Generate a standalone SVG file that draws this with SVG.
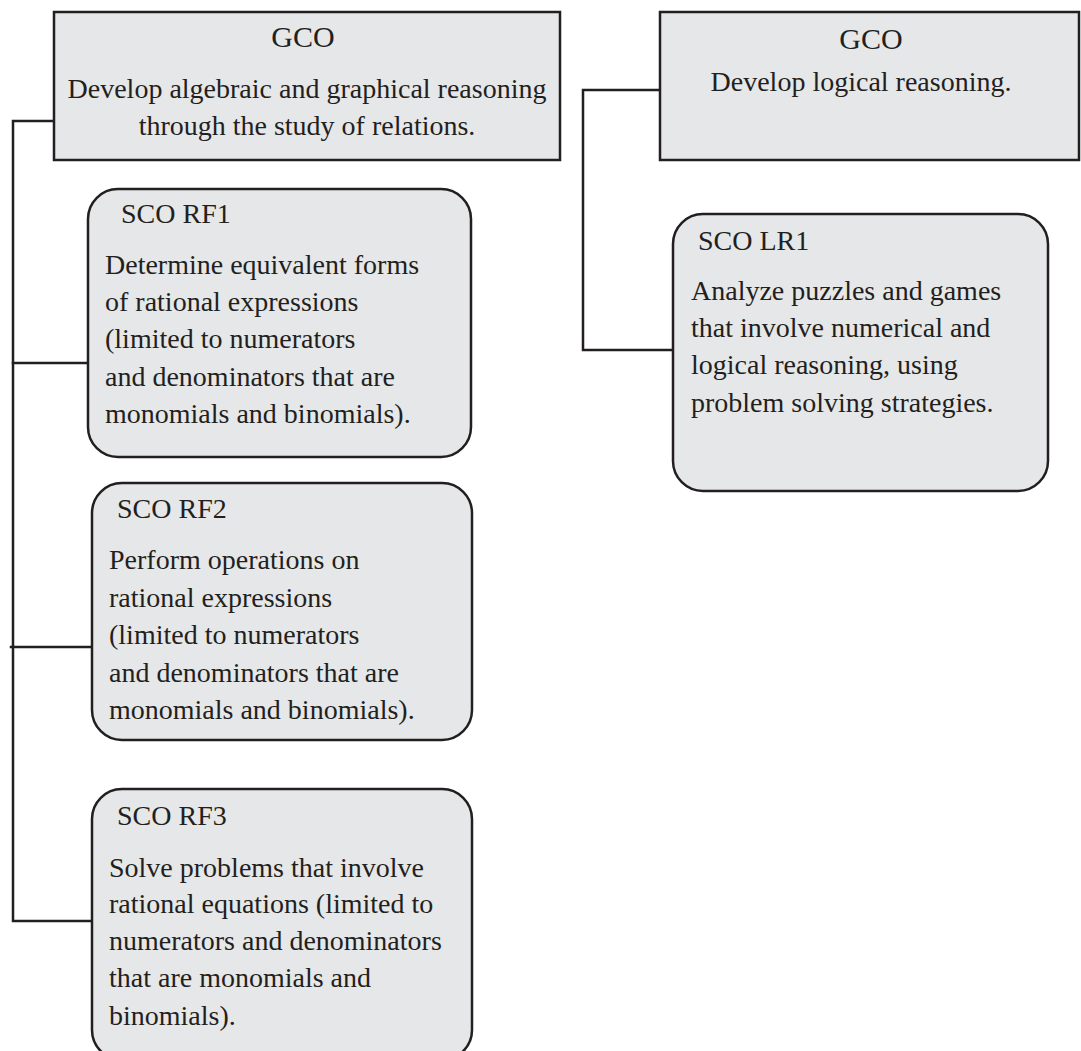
<svg xmlns="http://www.w3.org/2000/svg" width="1081" height="1051" viewBox="0 0 1081 1051">
  <style>
    .box { fill: #e6e7e8; stroke: #231f20; stroke-width: 2.5; }
    .wire { fill: none; stroke: #231f20; stroke-width: 2.5; stroke-linecap: square; }
    text { font-family: "Liberation Serif", "Times New Roman", serif; font-size: 28px; fill: #231f20; }
    .mid { text-anchor: middle; }
    .head { font-size: 30px; }
  </style>
  <rect width="1081" height="1051" fill="#ffffff"/>

  <!-- connectors -->
  <g id="connectors">
    <path class="wire" d="M54,121 H13 V921 H92"/>
    <line class="wire" x1="13" y1="363" x2="88" y2="363"/>
    <line class="wire" x1="11" y1="647" x2="92" y2="647"/>
    <path class="wire" d="M660,90 H583 V350 H673"/>
  </g>

  <!-- general outcome: relations -->
  <g id="gco-relations">
    <rect class="box" x="54" y="12" width="506" height="148"/>
    <text class="mid head" x="303" y="47">GCO</text>
    <text class="mid" x="307" y="98">Develop algebraic and graphical reasoning</text>
    <text class="mid" x="307" y="135">through the study of relations.</text>
  </g>

  <!-- general outcome: logical reasoning -->
  <g id="gco-logic">
    <rect class="box" x="660" y="12" width="419" height="148"/>
    <text class="mid head" x="871" y="49">GCO</text>
    <text class="mid" x="861" y="91">Develop logical reasoning.</text>
  </g>

  <!-- specific outcome RF1 -->
  <g id="sco-rf1">
    <rect class="box" x="88" y="189" width="383" height="268" rx="30" ry="30"/>
    <text x="121" y="223">SCO RF1</text>
    <text x="105" y="274">Determine equivalent forms</text>
    <text x="105" y="311">of rational expressions</text>
    <text x="105" y="348">(limited to numerators</text>
    <text x="105" y="386">and denominators that are</text>
    <text x="105" y="423">monomials and binomials).</text>
  </g>

  <!-- specific outcome RF2 -->
  <g id="sco-rf2">
    <rect class="box" x="92" y="483" width="380" height="257" rx="30" ry="30"/>
    <text x="117" y="518">SCO RF2</text>
    <text x="109" y="569">Perform operations on</text>
    <text x="109" y="607">rational expressions</text>
    <text x="109" y="644">(limited to numerators</text>
    <text x="109" y="682">and denominators that are</text>
    <text x="109" y="719">monomials and binomials).</text>
  </g>

  <!-- specific outcome RF3 -->
  <g id="sco-rf3">
    <rect class="box" x="92" y="789" width="380" height="271" rx="30" ry="30"/>
    <text x="117" y="825">SCO RF3</text>
    <text x="109" y="877">Solve problems that involve</text>
    <text x="109" y="913">rational equations (limited to</text>
    <text x="109" y="950">numerators and denominators</text>
    <text x="109" y="987">that are monomials and</text>
    <text x="109" y="1025">binomials).</text>
  </g>

  <!-- specific outcome LR1 -->
  <g id="sco-lr1">
    <rect class="box" x="673" y="214" width="375" height="277" rx="30" ry="30"/>
    <text x="698" y="250">SCO LR1</text>
    <text x="691" y="300">Analyze puzzles and games</text>
    <text x="691" y="337">that involve numerical and</text>
    <text x="691" y="374">logical reasoning, using</text>
    <text x="691" y="412">problem solving strategies.</text>
  </g>
</svg>
